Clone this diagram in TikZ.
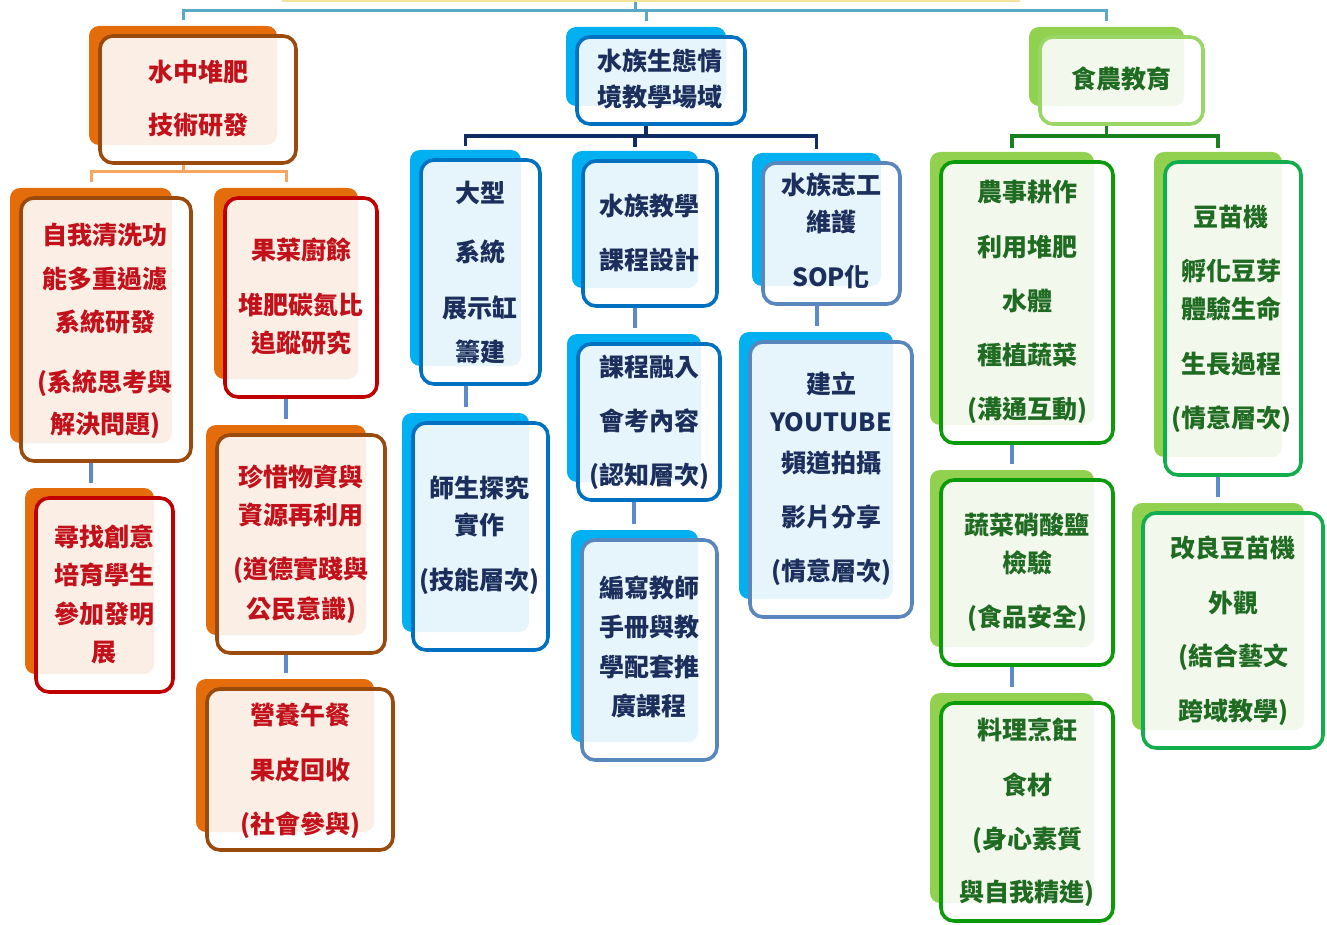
\documentclass[tikz,border=0pt]{standalone}
\usepackage{fontspec}
\setmainfont{Noto Sans CJK TC}
\usetikzlibrary{calc}
\pgfdeclarelayer{background}
\pgfsetlayers{background,main}
\definecolor{cOrange}{HTML}{E46C0A}
\definecolor{cBrown}{HTML}{9A4A0C}
\definecolor{cRed}{HTML}{C00000}
\definecolor{cRedTxt}{HTML}{C3111B}
\definecolor{cCream}{HTML}{FBEFE5}
\definecolor{cSky}{HTML}{00B0F0}
\definecolor{cBlueB}{HTML}{0070C0}
\definecolor{cBlueL}{HTML}{5A86BE}
\definecolor{cIce}{HTML}{E6F4FC}
\definecolor{cNavyTxt}{HTML}{1C2F5C}
\definecolor{cLime}{HTML}{92D050}
\definecolor{cLimeB}{HTML}{9AD667}
\definecolor{cGreenB}{HTML}{0A9A0A}
\definecolor{cGreenC}{HTML}{12AE4E}
\definecolor{cMint}{HTML}{F2F8EC}
\definecolor{cGreenTxt}{HTML}{1F6B22}
\definecolor{cTeal}{HTML}{57A9C6}
\definecolor{cOLine}{HTML}{F8A55E}
\definecolor{cVLine}{HTML}{5B8BCA}
\definecolor{cNavy}{HTML}{112B63}
\definecolor{cDGreen}{HTML}{18801C}
\definecolor{cYellow}{HTML}{F2E49A}
\tikzset{
  frame/.style={shape=rectangle, rounded corners=13pt, line width=3.6pt, inner sep=0pt, outer sep=0pt},
  backbox/.style={shape=rectangle, rounded corners=10pt, inner sep=0pt, outer sep=0pt},
  tx/.style={font=\fontsize{25}{25}\selectfont\bfseries, inner sep=0pt, anchor=center},
  topline/.style={draw=cTeal, line width=3pt},
  oline/.style={draw=cOLine, line width=3pt},
  nline/.style={draw=cNavy, line width=3.5pt},
  gline/.style={draw=cDGreen, line width=3.5pt},
  vline/.style={draw=cVLine, line width=4pt},
  rootbox/.style={shape=rectangle, draw=cYellow, line width=2pt, fill=white, inner sep=0pt},
}
% card: name, x1, y1, x2, y2, back colour, light colour, border colour
\newcommand\card[8]{%
  \node[backbox, fill=#6, minimum width={#4-#2-8}, minimum height={#5-#3-8}] (#1b) at ({(#2+#4)/2-15},{(#3+#5)/2-14}) {};
  \fill[white, rounded corners=13pt] (#2,#3) rectangle (#4,#5);
  \begin{scope}
    \clip[rounded corners=13pt] (#2,#3) rectangle (#4,#5);
    \fill[#7, rounded corners=10pt] (#1b.north west) rectangle (#1b.south east);
  \end{scope}
  \node[frame, draw=#8, minimum width={#4-#2}, minimum height={#5-#3}] (#1) at ({(#2+#4)/2},{(#3+#5)/2}) {};
}
% text lines: name, x, colour, list y/text
\newcommand\cardlines[4]{%
  \foreach \yv/\lv [count=\i] in {#4} \node[tx, text=#3] (#1-\i) at (#2,\yv) {\lv};
}
\begin{document}
\begin{tikzpicture}[x=1pt, y=-1pt]
\useasboundingbox (0,0) rectangle (1327,925);
\node[rootbox, minimum width=736, minimum height=60] (root) at (651,-29) {};

% ---- left branch (orange)
\card{h1}{100}{36}{296}{163}{cOrange}{cCream}{cBrown}
\cardlines{h1}{198}{cRedTxt}{72/水中堆肥, 125/技術研發}
\card{a1}{21}{198}{191}{461}{cOrange}{cCream}{cBrown}
\cardlines{a1}{105}{cRedTxt}{235/自我清洗功, 279/能多重過濾, 322/系統研發, 383/{(系統思考與}, 425/{解決問題)}}
\card{a2}{225}{198}{377}{397}{cOrange}{cCream}{cRed}
\cardlines{a2}{301}{cRedTxt}{250/果菜廚餘, 305/堆肥碳氮比, 343/追蹤研究}
\card{a3}{36}{498}{173}{692}{cOrange}{cCream}{cRed}
\cardlines{a3}{104}{cRedTxt}{537/尋找創意, 575/培育學生, 614/參加發明, 653/展}
\card{a4}{217}{435}{385}{653}{cOrange}{cCream}{cBrown}
\cardlines{a4}{301}{cRedTxt}{477/珍惜物資與, 515/資源再利用, 570/{(道德實踐與}, 610/{公民意識)}}
\card{a5}{207}{689}{393}{850}{cOrange}{cCream}{cBrown}
\cardlines{a5}{300}{cRedTxt}{715/營養午餐, 770/果皮回收, 825/{(社會參與)}}

% ---- middle branch (blue)
\card{h2}{577}{37}{745}{124}{cSky}{cIce}{cBlueB}
\cardlines{h2}{660}{cNavyTxt}{61/水族生態情, 97/境教學場域}
\card{b1}{421}{160}{540}{384}{cSky}{cIce}{cBlueB}
\cardlines{b1}{480}{cNavyTxt}{193/大型, 252/系統, 308/展示缸, 352/籌建}
\card{b2}{583}{161}{717}{306}{cSky}{cIce}{cBlueB}
\cardlines{b2}{649}{cNavyTxt}{206/水族教學, 260/課程設計}
\card{b3}{763}{163}{900}{304}{cSky}{cIce}{cBlueL}
\cardlines{b3}{831}{cNavyTxt}{185/水族志工, 222/維護, 277/SOP化}
\card{b4}{413}{423}{548}{650}{cSky}{cIce}{cBlueB}
\cardlines{b4}{479}{cNavyTxt}{488/師生探究, 525/實作, 581/{(技能層次)}}
\card{b5}{578}{344}{720}{500}{cSky}{cIce}{cBlueB}
\cardlines{b5}{649}{cNavyTxt}{367/課程融入, 421/會考內容, 476/{(認知層次)}}
\card{b6}{582}{540}{717}{760}{cSky}{cIce}{cBlueL}
\cardlines{b6}{649}{cNavyTxt}{588/編寫教師, 627/手冊與教, 667/學配套推, 706/廣課程}
\card{b7}{750}{342}{912}{617}{cSky}{cIce}{cBlueL}
\cardlines{b7}{831}{cNavyTxt}{384/建立, 422/YOUTUBE, 463/頻道拍攝, 517/影片分享, 572/{(情意層次)}}

% ---- right branch (green)
\card{h3}{1040}{37}{1203}{124}{cLime}{cMint}{cLimeB}
\cardlines{h3}{1121}{cGreenTxt}{79/食農教育}
\card{c1}{941}{162}{1113}{443}{cLime}{cMint}{cGreenB}
\cardlines{c1}{1027}{cGreenTxt}{192/農事耕作, 247/利用堆肥, 301/水體, 355/種植蔬菜, 410/{(溝通互動)}}
\card{c2}{1165}{162}{1301}{475}{cLime}{cMint}{cGreenC}
\cardlines{c2}{1231}{cGreenTxt}{217/豆苗機, 271/孵化豆芽, 309/體驗生命, 364/生長過程, 419/{(情意層次)}}
\card{c3}{941}{480}{1113}{665}{cLime}{cMint}{cGreenB}
\cardlines{c3}{1027}{cGreenTxt}{525/蔬菜硝酸鹽, 563/檢驗, 618/{(食品安全)}}
\card{c4}{941}{703}{1113}{921}{cLime}{cMint}{cGreenB}
\cardlines{c4}{1027}{cGreenTxt}{730/料理烹飪, 785/食材, 840/{(身心素質}, 893/{與自我精進)}}
\card{c5}{1143}{513}{1323}{748}{cLime}{cMint}{cGreenC}
\cardlines{c5}{1233}{cGreenTxt}{548/改良豆苗機, 603/外觀, 657/{(結合藝文}, 712/{跨域教學)}}

% ---- connectors
\begin{pgfonlayer}{background}
\coordinate (tj) at (635,11);
\coordinate (oy) at (0,172);
\coordinate (ny) at (0,136);
\coordinate (gy) at (0,136);
\draw[topline] (tj |- root.south) -- (tj);
\draw[topline, shorten <=6pt, shorten >=6pt] (h1b.north) |- (tj -| h3b.north) -- (h3b.north);
\draw[topline, shorten >=6pt] (h2b.north |- tj) -- (h2b.north);

\draw[oline] (h1b.south) -- (h1b.south |- oy);
\draw[oline, shorten <=6pt, shorten >=6pt] (a1b.north) |- (oy -| a2b.north) -- (a2b.north);

\draw[nline] (h2b.south) -- (h2b.south |- ny);
\draw[nline, shorten <=4pt, shorten >=4pt] (b1b.north) |- (ny -| b3b.north) -- (b3b.north);
\draw[nline, shorten >=4pt] (b2b.north |- ny) -- (b2b.north);

\draw[gline] (h3b.south) -- (h3b.south |- gy);
\draw[gline, shorten <=4pt, shorten >=4pt] (c1b.north) |- (gy -| c2b.north) -- (c2b.north);

\draw[vline, shorten >=5pt] (a1b.south) -- (a1b.south |- a3b.north);
\draw[vline, shorten >=6pt] (a2b.south) -- (a2b.south |- a4b.north);
\draw[vline, shorten >=6pt] (a4b.south) -- (a4b.south |- a5b.north);
\draw[vline, shorten >=6pt] (b1b.south) -- (b1b.south |- b4b.north);
\draw[vline, shorten >=6pt] (b2b.south) -- (b2b.south |- b5b.north);
\draw[vline, shorten >=6pt] (b5b.south) -- (b5b.south |- b6b.north);
\draw[vline, shorten >=6pt] (b3b.south) -- (b3b.south |- b7b.north);
\draw[vline, shorten >=6pt] (c1b.south) -- (c1b.south |- c3b.north);
\draw[vline, shorten >=6pt] (c3b.south) -- (c3b.south |- c4b.north);
\draw[vline, shorten >=6pt] (c2b.south) -- (c2b.south |- c5b.north);
\end{pgfonlayer}
\end{tikzpicture}
\end{document}
